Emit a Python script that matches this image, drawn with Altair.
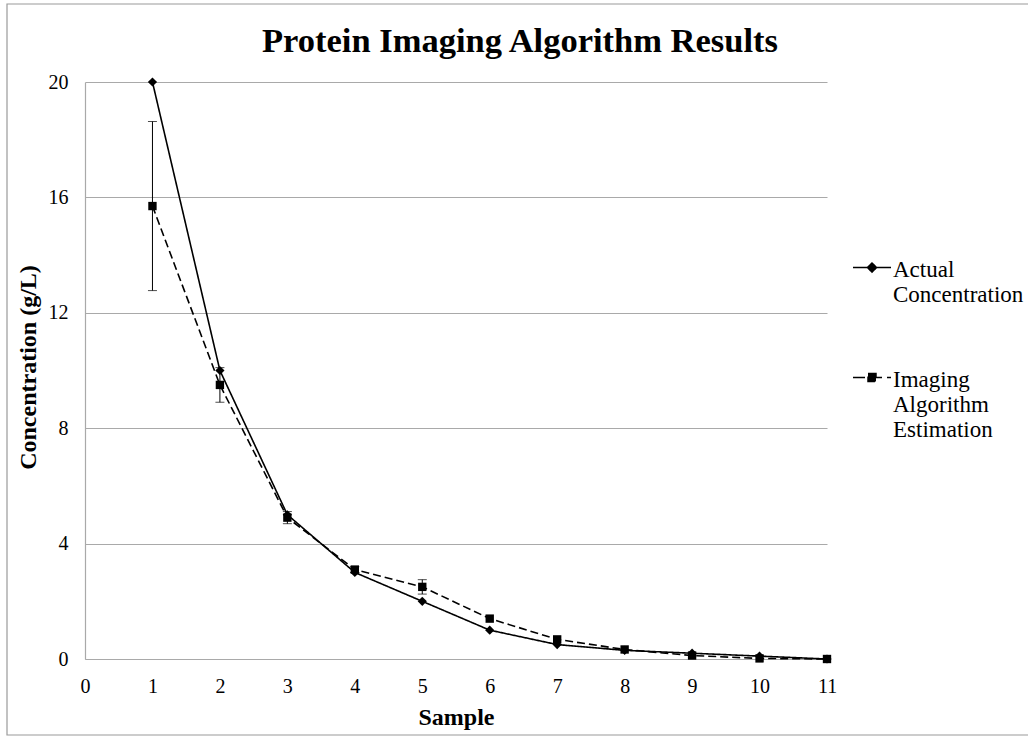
import altair as alt
import pandas as pd

# Sample numbers and the two measured series
samples = [1, 2, 3, 4, 5, 6, 7, 8, 9, 10, 11]
actual = [20, 10, 5, 3, 2, 1, 0.5, 0.3, 0.2, 0.1, 0]
estimate = [15.7, 9.5, 4.9, 3.1, 2.5, 1.4, 0.68, 0.33, 0.12, 0.02, 0.0]
estimate_err = [2.93, 0.6, 0.21, 0.1, 0.25, 0, 0, 0, 0, 0, 0]
series_names = ["Actual Concentration", "Imaging Algorithm Estimation"]

x_ticks = list(range(0, 12))
y_ticks = [0, 4, 8, 12, 16, 20]

FONT = "Liberation Serif"
GRID = "#a9a9a9"
DASH = [8, 4]

rows = []
for s, a in zip(samples, actual):
    rows.append({"sample": s, "value": a, "series": series_names[0]})
for s, e in zip(samples, estimate):
    rows.append({"sample": s, "value": e, "series": series_names[1]})
long_df = pd.DataFrame(rows)

err_df = pd.DataFrame({
    "sample": samples,
    "lo": [e - d for e, d in zip(estimate, estimate_err)],
    "hi": [e + d for e, d in zip(estimate, estimate_err)],
    "err": estimate_err,
})
err_df = err_df[err_df["err"] > 0]

x_scale = alt.Scale(domain=[0, 11], nice=False)
y_scale = alt.Scale(domain=[0, 20], nice=False)

x_axis = alt.Axis(
    title="Sample", values=x_ticks, format="d", grid=False, ticks=False,
    labelFlush=False, labelFontSize=20, labelPadding=17, labelBaseline="top",
    titleFontSize=24, titleFontWeight="bold", titleX=371, titleY=58,
    titleBaseline="middle",
)
y_axis = alt.Axis(
    title="Concentration (g/L)", values=y_ticks, format="d", grid=True, ticks=False,
    labelFlush=False, labelFontSize=20, labelPadding=17,
    titleFontSize=24, titleFontWeight="bold", titleX=-57, titleY=285,
    titleBaseline="middle",
)

# Legend glyphs: a short line segment with the series marker in its middle
legend_paths = [
    "M-1,0.45H1M0,0.21L0.24,0.45L0,0.69L-0.24,0.45Z",
    "M-1,0.45H1M-0.21,0.24H0.21V0.66H-0.21Z",
]

legend = alt.Legend(
    title=None, orient="none", legendX=767, legendY=157,
    symbolSize=1444, symbolStrokeWidth=1.5, symbolOpacity=1,
    labelFont=FONT, labelFontSize=23, labelColor="black", labelLimit=400,
    labelOffset=1, labelBaseline="top", rowPadding=42,
    labelExpr=(
        "datum.label === 'Actual Concentration' ? ['Actual', 'Concentration'] : "
        "['Imaging', 'Algorithm', 'Estimation']"
    ),
)

base = alt.Chart(long_df)


def series_line(name, dash):
    return base.transform_filter(alt.datum.series == name).mark_line(
        strokeWidth=1.6, color="black", strokeDash=dash, clip=False
    ).encode(
        x=alt.X("sample:Q", scale=x_scale, axis=x_axis),
        y=alt.Y("value:Q", scale=y_scale, axis=y_axis),
    )


def series_points(name, shape, size):
    return base.transform_filter(alt.datum.series == name).mark_point(
        filled=True, opacity=1, color="black", shape=shape, size=size, clip=False
    ).encode(
        x=alt.X("sample:Q", scale=x_scale),
        y=alt.Y("value:Q", scale=y_scale),
    )


# Legend-only layer: no rows survive the filter, the scales carry the domain
legend_layer = base.transform_filter("false").mark_point(
    filled=True, fill="black", stroke="black", strokeWidth=1.5, opacity=1
).encode(
    x=alt.X("sample:Q", scale=x_scale),
    y=alt.Y("value:Q", scale=y_scale),
    shape=alt.Shape("series:N", scale=alt.Scale(domain=series_names, range=legend_paths), legend=legend),
    strokeDash=alt.StrokeDash("series:N", scale=alt.Scale(domain=series_names, range=[[1, 0], [12, 5]]), legend=legend),
)

err_rule = alt.Chart(err_df).mark_rule(color="black", strokeWidth=1).encode(
    x=alt.X("sample:Q", scale=x_scale),
    y=alt.Y("lo:Q", scale=y_scale),
    y2="hi:Q",
)
err_lo = alt.Chart(err_df).mark_tick(color="black", orient="horizontal", size=9, thickness=1).encode(
    x=alt.X("sample:Q", scale=x_scale),
    y=alt.Y("lo:Q", scale=y_scale),
)
err_hi = alt.Chart(err_df).mark_tick(color="black", orient="horizontal", size=9, thickness=1).encode(
    x=alt.X("sample:Q", scale=x_scale),
    y=alt.Y("hi:Q", scale=y_scale),
)

# Outer chart frame
frame = alt.Chart(pd.DataFrame({"k": [0]})).mark_rect(
    fill=None, stroke="#9a9a9a", strokeWidth=1.2, clip=False
).encode(
    x=alt.value(-78), x2=alt.value(945), y=alt.value(-78), y2=alt.value(653)
)

chart = alt.layer(
    frame,
    series_line(series_names[0], [1, 0]),
    series_line(series_names[1], DASH),
    err_rule, err_lo, err_hi,
    series_points(series_names[0], "diamond", 85),
    series_points(series_names[1], "square", 70),
    legend_layer,
).properties(
    width=742,
    height=577,
    autosize=alt.AutoSizeParams(type="none"),
    padding={"left": 85, "top": 82, "right": 201, "bottom": 77},
    title=alt.TitleParams(
        "Protein Imaging Algorithm Results",
        font=FONT, fontSize=34.5, fontWeight="bold", color="black",
        anchor="middle", frame="group", offset=-83, baseline="alphabetic", dx=64,
    ),
).configure(
    background="white",
).configure_view(
    stroke=None,
).configure_axis(
    labelFont=FONT, titleFont=FONT, labelColor="black", titleColor="black",
    domainColor=GRID, domainWidth=1.2, gridColor=GRID, gridWidth=1.2,
)

chart.save("out.html", embed_options={"renderer": "svg", "actions": False})
